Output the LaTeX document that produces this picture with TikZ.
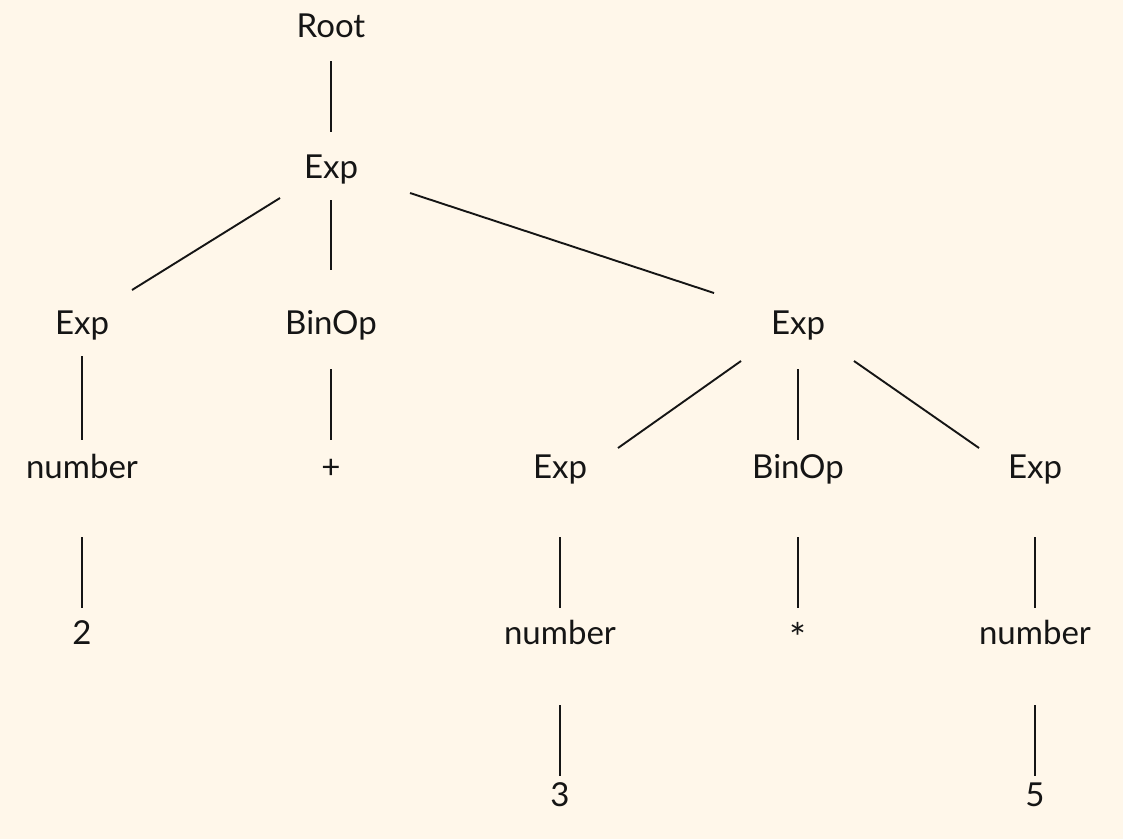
\documentclass[tikz,border=0pt]{standalone}
\usepackage{fontspec}
\setmainfont{Lato}
\usetikzlibrary{calc}
\definecolor{bg}{HTML}{FFF7EA}
\definecolor{ink}{HTML}{151515}
\begin{document}
\begin{tikzpicture}[x=1pt,y=-1pt,
  lbl/.style={anchor=base, inner sep=0pt, text=ink, font=\fontsize{33}{40}\selectfont},
  edge/.style={draw=ink, line width=1.9pt}]
\fill[bg] (0,0) rectangle (1123,839);
\useasboundingbox (0,0) rectangle (1123,839);
% level 0
\node[lbl] (root) at (331,37) {Root};
% level 1
\node[lbl] (e1) at (331,178) {Exp};
% level 2
\node[lbl] (eL) at (82,334) {Exp};
\node[lbl] (b1) at (331,334) {BinOp};
\node[lbl] (eR) at (798,334) {Exp};
% level 3
\node[lbl] (n1) at (82,478) {number};
\node[lbl] (plus) at (331,478) {+};
\node[lbl] (eA) at (560,478) {Exp};
\node[lbl] (b2) at (798,478) {BinOp};
\node[lbl] (eB) at (1035,478) {Exp};
% level 4
\node[lbl] (two) at (82,644) {2};
\node[lbl] (nA) at (560,644) {number};
\node[lbl, font=\fontsize{40}{44}\selectfont] (star) at (798,652) {*};
\node[lbl] (nB) at (1035,644) {number};
% level 5
\node[lbl] (three) at (560,806) {3};
\node[lbl] (five) at (1035,806) {5};
% edges
\draw[edge] ($(root.base)+(0,24)$) -- ($(e1.base)+(0,-46)$);
\draw[edge] ($(e1.base)+(-51,20)$) -- ($(eL.base)+(50,-44)$);
\draw[edge] ($(e1.base)+(0,22)$) -- ($(b1.base)+(0,-64)$);
\draw[edge] ($(e1.base)+(79,15)$) -- ($(eR.base)+(-84,-41)$);
\draw[edge] ($(eL.base)+(0,22)$) -- ($(n1.base)+(0,-38)$);
\draw[edge] ($(b1.base)+(0,35)$) -- ($(plus.base)+(0,-38)$);
\draw[edge] ($(eR.base)+(-57,27)$) -- ($(eA.base)+(58,-30)$);
\draw[edge] ($(eR.base)+(0,35)$) -- ($(b2.base)+(0,-38)$);
\draw[edge] ($(eR.base)+(56,27)$) -- ($(eB.base)+(-56,-30)$);
\draw[edge] ($(n1.base)+(0,59)$) -- ($(two.base)+(0,-36)$);
\draw[edge] ($(eA.base)+(0,59)$) -- ($(nA.base)+(0,-36)$);
\draw[edge] ($(b2.base)+(0,59)$) -- ($(star.base)+(0,-44)$);
\draw[edge] ($(eB.base)+(0,59)$) -- ($(nB.base)+(0,-36)$);
\draw[edge] ($(nA.base)+(0,61)$) -- ($(three.base)+(0,-30)$);
\draw[edge] ($(nB.base)+(0,61)$) -- ($(five.base)+(0,-30)$);
\end{tikzpicture}
\end{document}
